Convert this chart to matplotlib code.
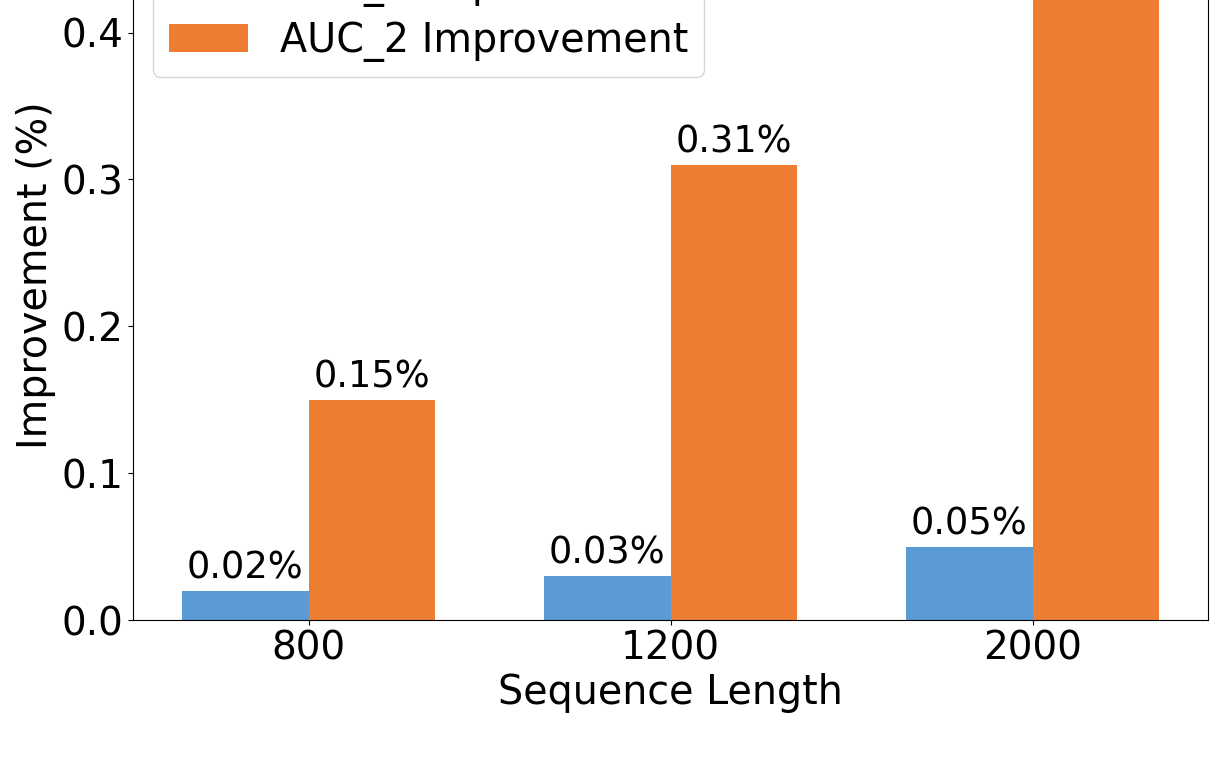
import numpy as np
import matplotlib.pyplot as plt

seq_lengths = ['800', '1200', '2000']
auc1_improvement = [0.02, 0.03, 0.05]
auc2_improvement = [0.15, 0.31, 0.447]

x = np.arange(len(seq_lengths))
width = 0.35

fig = plt.figure(figsize=(12.24, 7.8), dpi=100)
ax = fig.add_axes([0.1087, 0.2051, 0.8783, 0.8836])

b1 = ax.bar(x - width / 2, auc1_improvement, width, color='#5B9BD5', label='AUC_1 Improvement')
b2 = ax.bar(x + width / 2, auc2_improvement, width, color='#ED7D31', label='AUC_2 Improvement')

for bars in (b1, b2):
    ax.bar_label(bars, fmt='{:.2f}%', padding=3, fontsize=26.5)

ax.set_xticks(x)
ax.set_xticklabels(seq_lengths)
ax.set_yticks([0.0, 0.1, 0.2, 0.3, 0.4])
ax.tick_params(axis='both', labelsize=28)
ax.set_xlabel('Sequence Length', fontsize=28.5)
ax.set_ylabel('Improvement (%)', fontsize=28.5)
ax.legend(loc='upper left', fontsize=28.5, labelspacing=0.33)

fig.savefig('out.png', dpi=100)
